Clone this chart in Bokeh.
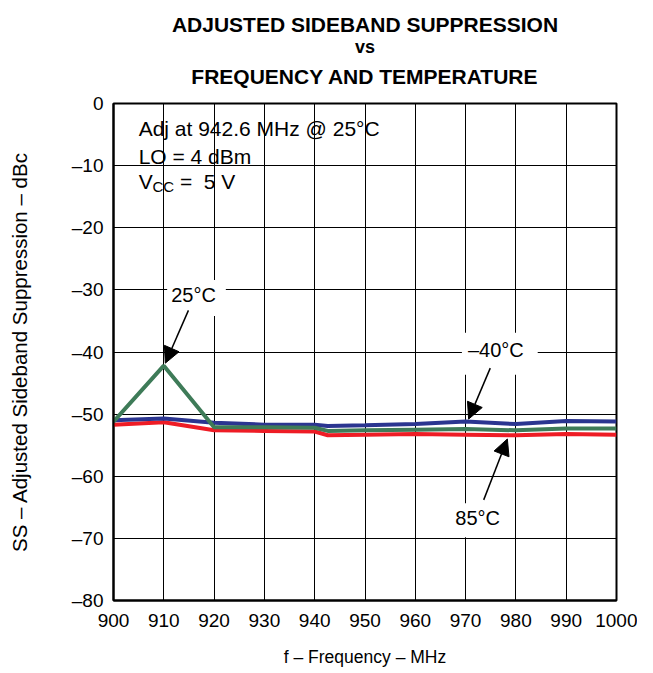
from bokeh.plotting import figure
from bokeh.models import Label, Arrow, NormalHead, FixedTicker, Range1d, Title
from bokeh.embed import file_html
from bokeh.resources import INLINE

# ---- data ----
freq = [900, 910, 920, 930, 940, 942.6, 950, 960, 970, 980, 990, 1000]
ss_m40 = [-51.0, -50.7, -51.4, -51.7, -51.7, -51.9, -51.8, -51.6, -51.2, -51.6, -51.1, -51.2]
ss_25 = [-51.2, -42.2, -52.1, -52.1, -52.2, -52.7, -52.6, -52.5, -52.4, -52.6, -52.3, -52.3]
ss_85 = [-51.7, -51.3, -52.6, -52.7, -52.8, -53.4, -53.3, -53.2, -53.3, -53.4, -53.2, -53.3]
x_ticks = [900, 910, 920, 930, 940, 950, 960, 970, 980, 990, 1000]
y_ticks = [0, -10, -20, -30, -40, -50, -60, -70, -80]
y_tick_labels = ["0", "–10", "–20", "–30", "–40", "–50", "–60", "–70", "–80"]
title_lines = ["ADJUSTED SIDEBAND SUPPRESSION", "vs", "FREQUENCY AND TEMPERATURE"]

FONT = "Liberation Sans"

p = figure(width=637, height=669, x_range=Range1d(900, 1000), y_range=Range1d(-80, 0),
           output_backend="svg", toolbar_location=None,
           min_border_left=113, min_border_right=21, min_border_top=103, min_border_bottom=63)
p.background_fill_color = "white"
p.border_fill_color = "white"
p.outline_line_color = "black"
p.outline_line_width = 2

p.xaxis.ticker = FixedTicker(ticks=x_ticks)
p.yaxis.ticker = FixedTicker(ticks=y_ticks)
p.yaxis.major_label_overrides = {t: l for t, l in zip(y_ticks, y_tick_labels)}
for ax in (p.xaxis, p.yaxis):
    ax.axis_line_color = "black"
    ax.axis_line_width = 2
    ax.major_tick_in = 0
    ax.major_tick_out = 0
    ax.minor_tick_in = 0
    ax.minor_tick_out = 0
    ax.major_label_text_font = FONT
    ax.major_label_text_font_size = "19px"
    ax.major_label_text_color = "black"
    ax.axis_label_text_font = FONT
    ax.axis_label_text_font_style = "normal"
    ax.axis_label_text_color = "black"
p.xaxis.axis_label = "f – Frequency – MHz"
p.yaxis.axis_label = "SS – Adjusted Sideband Suppression – dBc"
p.xaxis.axis_label_text_font_size = "17.5px"
p.yaxis.axis_label_text_font_size = "20.5px"
p.xaxis.major_label_standoff = 13
p.xaxis.axis_label_standoff = 17
p.yaxis.major_label_standoff = 10
p.yaxis.axis_label_standoff = 38

p.grid.grid_line_color = "black"
p.grid.grid_line_width = 1
p.grid.grid_line_alpha = 1

# ---- title: three stacked lines (first added sits nearest the frame) ----
p.add_layout(Title(text=title_lines[2], align="center", text_font=FONT,
                   text_font_style="bold", text_font_size="21px", text_color="black",
                   standoff=32), "above")
p.add_layout(Title(text=title_lines[1], align="center", text_font=FONT,
                   text_font_style="bold", text_font_size="18px", text_color="black",
                   standoff=-21), "above")
p.add_layout(Title(text=title_lines[0], align="center", text_font=FONT,
                   text_font_style="bold", text_font_size="21px", text_color="black",
                   standoff=20), "above")

# ---- lines ----
p.line(freq, ss_85, line_color="#ee1c25", line_width=4)
p.line(freq, ss_m40, line_color="#2b3590", line_width=4)
p.line(freq, ss_25, line_color="#3e7b58", line_width=4)

# ---- condition text ----
p.add_layout(Label(x=905.0, y=-4.1, text="Adj at 942.6 MHz @ 25°C", text_font=FONT,
                   text_font_size="21px", text_baseline="middle", text_color="black"))
p.add_layout(Label(x=905.0, y=-8.6, text="LO = 4 dBm", text_font=FONT,
                   text_font_size="21px", text_baseline="middle", text_color="black"))
p.add_layout(Label(x=905.0, y=-12.6, text="V", text_font=FONT,
                   text_font_size="21px", text_baseline="middle", text_color="black"))
p.add_layout(Label(x=907.75, y=-13.3, text="CC", text_font=FONT,
                   text_font_size="15px", text_baseline="middle", text_color="black"))
p.add_layout(Label(x=913.2, y=-12.6, text="= \u00a05 V", text_font=FONT,
                   text_font_size="21px", text_baseline="middle", text_color="black"))

# ---- curve annotations ----
def tag(x, y, t, pad):
    p.add_layout(Label(x=x, y=y, text=t, text_font=FONT, text_font_size="20px",
                       text_align="center", text_baseline="middle", text_color="black",
                       background_fill_color="white", background_fill_alpha=1,
                       padding=pad))

def arrow(x0, y0, x1, y1):
    p.add_layout(Arrow(end=NormalHead(size=16, fill_color="black", line_color="black"),
                       x_start=x0, y_start=y0, x_end=x1, y_end=y1,
                       line_color="black", line_width=1.5))

tag(916.5, -31.3, "25°C", (4, 10, 4, 10))
arrow(914.9, -33.3, 910.3, -41.8)
tag(976.8, -40.3, "–40°C", (6, 14, 6, 14))
arrow(974.9, -42.6, 970.6, -50.8)
tag(972.8, -67.1, "85°C", (4, 8, 4, 8))
arrow(973.6, -63.8, 978.3, -54.0)

open("out.html", "w").write(file_html(p, INLINE))
